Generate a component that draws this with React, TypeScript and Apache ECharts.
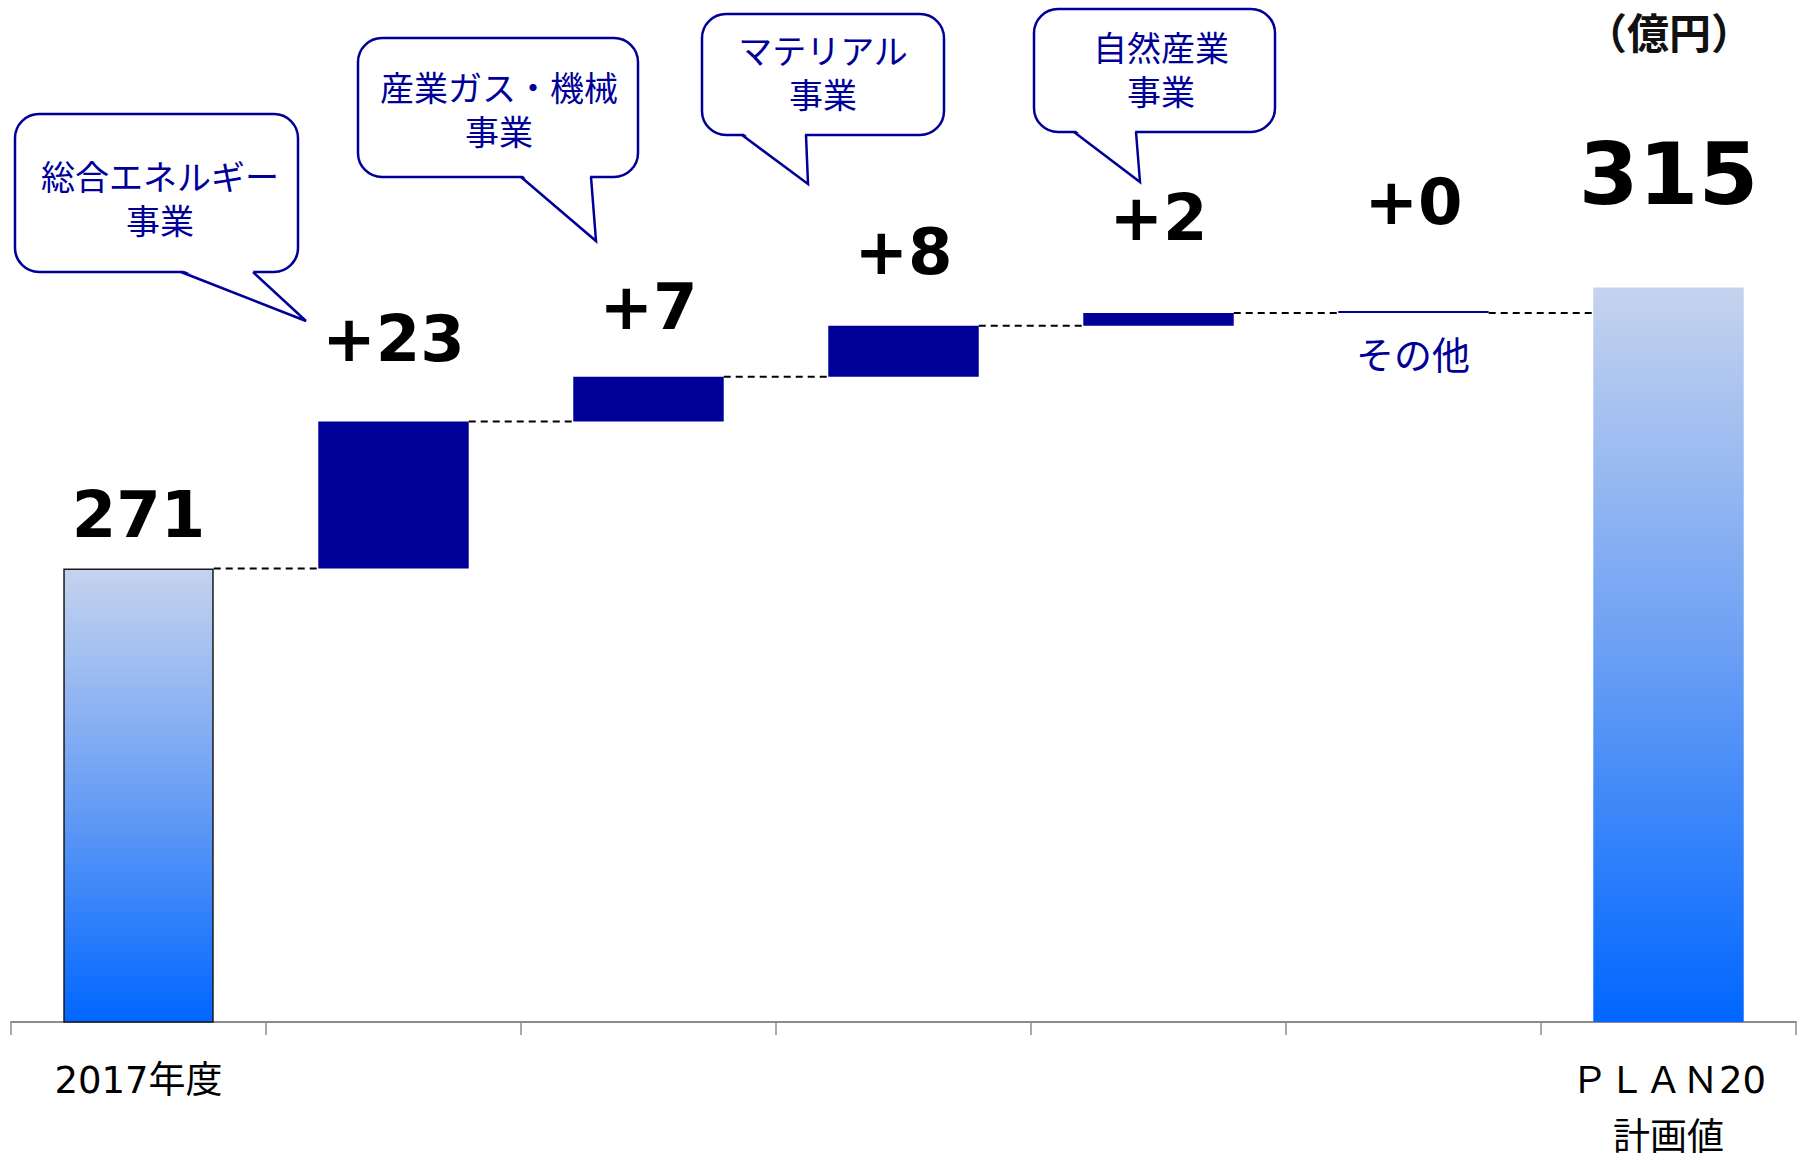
import React, { useEffect, useRef } from "react";
import * as echarts from "echarts";

// ---- data ----
const categories = ["2017年度", "", "", "", "", "", "ＰＬＡＮ20\n計画値"];
const startValue = 271; // 2017年度 実績
const deltas = [23, 7, 8, 2, 0]; // 総合エネルギー / 産業ガス・機械 / マテリアル / 自然産業 / その他
const planValue = 315; // ＰＬＡＮ20 計画値
const segmentNames = ["総合エネルギー\n事業", "産業ガス・機械\n事業", "マテリアル\n事業", "自然産業\n事業"];
const otherName = "その他";
const unitLabel = "（億円）";

// value-axis range (the axis starts at 200, not zero)
const axisMin = 200;
const axisMax = 360;

// ---- styling ----
const NAVY = "#000099";
const BAR_RATIO = 0.59;
const NUM_FONT = "'DejaVu Sans', Verdana, sans-serif";
const JP_FONT = "'Noto Sans CJK JP', 'Noto Sans CJK SC', sans-serif";
const MIX_FONT = "'DejaVu Sans', 'Noto Sans CJK JP', sans-serif";

// how far each value label sits above its bar (px)
const deltaLabelGap = [50.6, 37.5, 41.8, 63.4, 77];
const startLabelGap = 21.5;
const planLabelGap = 70.4;

// speech-bubble callouts: box [x, y, w, h], tail [base1, tip, base2], text centre
const bubbleLayout = [
  { box: [15, 114, 283, 158], tail: [[181, 272], [306, 321], [253, 272]], text: [160, 197] },
  { box: [358, 38, 280, 139], tail: [[521, 177], [596, 241], [591, 177]], text: [499, 108] },
  { box: [702, 14, 242, 121], tail: [[742, 135], [808, 184], [806, 135]], text: [823, 71] },
  { box: [1034, 9, 241, 123], tail: [[1074, 132], [1140, 182], [1136, 132]], text: [1161, 68] },
];

function totalGradient() {
  return new echarts.graphic.LinearGradient(0, 0, 0, 1, [
    { offset: 0, color: "#C5D3EE" },
    { offset: 0.5, color: "#6A9FF4" },
    { offset: 1, color: "#0066FF" },
  ]);
}

function buildOption() {
  const n = categories.length;
  // running level after each bar
  const levels: number[] = [startValue];
  deltas.forEach((d) => levels.push(levels[levels.length - 1] + d));

  const baseData: any[] = ["-"];
  const deltaData: any[] = ["-"];
  deltas.forEach((d, i) => {
    baseData.push(levels[i]);
    deltaData.push({ value: d, label: { distance: deltaLabelGap[i] } });
  });
  baseData.push("-");
  deltaData.push("-");

  const totalData: any[] = new Array(n).fill("-");
  totalData[0] = {
    value: startValue,
    itemStyle: { borderColor: "#1a1a1a", borderWidth: 1.5 },
    label: { distance: startLabelGap },
  };
  totalData[n - 1] = {
    value: planValue,
    label: { distance: planLabelGap, fontSize: 86, lineHeight: 86 },
  };

  const connectorData = levels.map((lv, i) => [i, lv]);

  const graphic: any[] = [];
  bubbleLayout.forEach((b, i) => {
    const [x, y, w, h] = b.box;
    const [p1, tip, p2] = b.tail;
    graphic.push(
      {
        type: "rect",
        z: 100,
        shape: { x, y, width: w, height: h, r: 24 },
        style: { fill: "#fff", stroke: NAVY, lineWidth: 2.5 },
      },
      {
        type: "polygon",
        z: 101,
        shape: { points: [[p1[0] + 1, p1[1] - 2], tip, [p2[0] - 1, p2[1] - 2]] },
        style: { fill: "#fff" },
      },
      {
        type: "polyline",
        z: 102,
        shape: { points: [p1, tip, p2] },
        style: { stroke: NAVY, lineWidth: 2.5, fill: null, lineJoin: "miter" },
      },
      {
        type: "text",
        z: 103,
        x: b.text[0],
        y: b.text[1],
        style: {
          text: segmentNames[i],
          fill: NAVY,
          fontSize: 34,
          lineHeight: 44,
          fontFamily: JP_FONT,
          align: "center",
          verticalAlign: "middle",
        },
      }
    );
  });
  graphic.push(
    {
      type: "text",
      x: 1413,
      y: 352,
      style: {
        text: otherName,
        fill: NAVY,
        fontSize: 38,
        fontFamily: JP_FONT,
        align: "center",
        verticalAlign: "middle",
      },
    },
    {
      type: "text",
      x: 1669,
      y: 30,
      style: {
        text: unitLabel,
        fill: "#111",
        fontSize: 42,
        fontWeight: "bold",
        fontFamily: JP_FONT,
        align: "center",
        verticalAlign: "middle",
      },
    }
  );

  const valueLabel = {
    show: true,
    position: "top",
    color: "#000",
    fontFamily: NUM_FONT,
    fontWeight: "bold",
    fontSize: 64,
    lineHeight: 64,
  };

  return {
    animation: false,
    backgroundColor: "#fff",
    grid: {
      left: 11,
      right: 9,
      top: 0,
      bottom: 139,
      containLabel: false,
      outerBoundsMode: "none",
    },
    xAxis: {
      type: "category",
      data: categories,
      axisLine: { show: true, lineStyle: { color: "#8c8c8c", width: 2 } },
      axisTick: { show: true, length: 13, lineStyle: { color: "#8c8c8c", width: 1.5 } },
      axisLabel: {
        color: "#000",
        fontSize: 37,
        lineHeight: 57,
        margin: 30,
        fontFamily: MIX_FONT,
        interval: 0,
      },
    },
    yAxis: {
      type: "value",
      min: axisMin,
      max: axisMax,
      show: false,
      splitLine: { show: false },
    },
    series: [
      {
        name: "base",
        type: "bar",
        stack: "waterfall",
        barWidth: `${BAR_RATIO * 100}%`,
        itemStyle: { color: "rgba(0,0,0,0)" },
        emphasis: { disabled: true },
        silent: true,
        data: baseData,
      },
      {
        name: "増減",
        type: "bar",
        stack: "waterfall",
        barWidth: `${BAR_RATIO * 100}%`,
        barMinHeight: 2,
        itemStyle: { color: NAVY },
        label: { ...valueLabel, formatter: (p: any) => `+${p.value}` },
        data: deltaData,
      },
      {
        name: "合計",
        type: "bar",
        stack: "waterfall",
        barWidth: `${BAR_RATIO * 100}%`,
        itemStyle: { color: totalGradient() },
        label: { ...valueLabel, formatter: (p: any) => `${p.value}` },
        data: totalData,
      },
      {
        name: "connector",
        type: "custom",
        silent: true,
        z: 1,
        encode: { x: 0, y: 1 },
        data: connectorData,
        renderItem: (_params: any, api: any) => {
          const i = api.value(0);
          const lv = api.value(1);
          const p = api.coord([i, lv]);
          const band = api.size([1, 0])[0];
          const half = (band * BAR_RATIO) / 2;
          return {
            type: "line",
            shape: { x1: p[0] + half, y1: p[1], x2: p[0] + band - half, y2: p[1] },
            style: { stroke: "#000", lineWidth: 2, lineDash: [7, 5] },
          };
        },
      },
    ],
    graphic,
  };
}

export default function App() {
  const ref = useRef<HTMLDivElement>(null);
  useEffect(() => {
    if (!ref.current) return;
    const chart = echarts.init(ref.current, null, { renderer: "svg" });
    chart.setOption(buildOption() as any);
    return () => chart.dispose();
  }, []);
  return (
    <div
      ref={ref}
      style={{ position: "absolute", left: 0, top: 0, width: 1805, height: 1161, background: "#fff" }}
    />
  );
}
